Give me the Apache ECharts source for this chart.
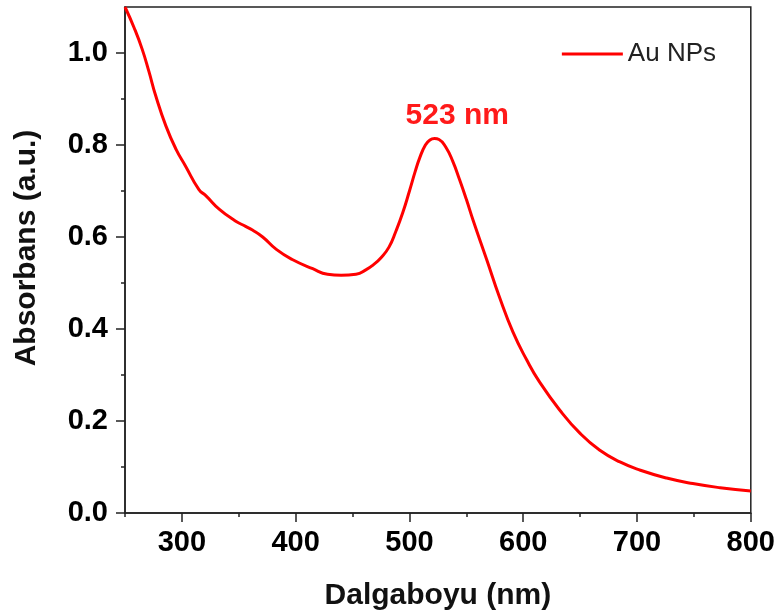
<!DOCTYPE html>
<html>
<head>
	<meta charset="utf-8">
	<title>Au NPs UV-Vis</title>
	<style>
		html, body { margin: 0; padding: 0; background: #fff; }
		#chart1 { width: 778px; height: 616px; }
	</style>
</head>
<body>
	<div id="chart1"></div>

	<script src="https://cdn.jsdelivr.net/npm/echarts@6/dist/echarts.min.js"></script>
	<script type="text/javascript">

    // spectrum
    var wavelength = [250, 258, 265, 271, 277, 286, 295, 303, 315, 321, 333, 347, 356, 362, 371,
        383, 397, 415, 428, 440, 453, 462, 468, 475, 482, 488, 494, 500, 505, 509, 514,
        518, 522, 526, 532, 538, 544, 550, 556, 568, 579, 591, 603, 614, 632, 650, 667, 685,
        703, 726, 749, 773, 800];
    var absorbance = [1.10, 1.055, 1.009, 0.96, 0.907, 0.841, 0.79, 0.755, 0.703, 0.69, 0.66, 0.635, 0.623, 0.615, 0.600,
        0.573, 0.551, 0.531, 0.519, 0.517, 0.519, 0.529, 0.539, 0.555, 0.578, 0.612, 0.652, 0.70, 0.742, 0.772, 0.80,
        0.811, 0.814, 0.812, 0.795, 0.765, 0.725, 0.682, 0.636, 0.55, 0.47, 0.393, 0.333, 0.286, 0.224, 0.173, 0.137, 0.111,
        0.093, 0.076, 0.064, 0.055, 0.048];

    var xMajor = [300, 400, 500, 600, 700, 800];
    var xMinor = [250, 350, 450, 550, 650, 750];
    var yMajor = [0, 0.2, 0.4, 0.6, 0.8, 1.0];
    var yMinor = [0.1, 0.3, 0.5, 0.7, 0.9];

    var peakLabel = '523 nm';
    var peakPos = [542, 0.864];

    var seriesName = 'Au NPs';

    function show() {
        var dom = document.getElementById('chart1');
        var myChart = echarts.init(dom);

        var data = [];
        for (var i = 0; i < wavelength.length; i++) {
            data.push([wavelength[i], absorbance[i]]);
        }

        var tickFont = {fontFamily: 'Liberation Sans, Arial', fontWeight: 'bold', fontSize: 29, color: '#000'};

        var option = {
            animation: false,
            grid: {
                left: 125, right: 27, top: 7, bottom: 103,
                show: true, borderColor: '#222', borderWidth: 1.5, containLabel: false
            },
            legend: {
                data: [seriesName],
                right: 57, top: 36,
                icon: 'rect',
                itemWidth: 61, itemHeight: 3,
                itemGap: 4,
                textStyle: {fontFamily: 'Liberation Sans, Arial', fontSize: 26, color: '#222'}
            },
            xAxis: [
                {
                    type: 'value', min: 250, max: 800,
                    name: 'Dalgaboyu (nm)', nameLocation: 'middle', nameGap: 68,
                    nameTextStyle: {fontFamily: 'Liberation Sans, Arial', fontWeight: 'bold', fontSize: 30, color: '#111'},
                    axisLine: {show: true, onZero: false, lineStyle: {color: '#222', width: 1.5}},
                    axisTick: {show: true, length: 9, customValues: xMajor, lineStyle: {color: '#222', width: 1.5}},
                    axisLabel: Object.assign({margin: 15, customValues: xMajor}, tickFont),
                    splitLine: {show: false}
                },
                {
                    type: 'value', min: 250, max: 800, position: 'bottom',
                    axisLine: {show: false},
                    axisTick: {show: true, length: 4, customValues: xMinor, lineStyle: {color: '#222', width: 1.5}},
                    axisLabel: {show: false},
                    splitLine: {show: false}
                }
            ],
            yAxis: [
                {
                    type: 'value', min: 0, max: 1.1,
                    axisLine: {show: true, onZero: false, lineStyle: {color: '#222', width: 1.5}},
                    axisTick: {show: true, length: 9, customValues: yMajor, lineStyle: {color: '#222', width: 1.5}},
                    axisLabel: Object.assign({margin: 17, customValues: yMajor,
                        formatter: function (v) { return v.toFixed(1); }}, tickFont),
                    splitLine: {show: false}
                },
                {
                    type: 'value', min: 0, max: 1.1, position: 'left',
                    axisLine: {show: false},
                    axisTick: {show: true, length: 4, customValues: yMinor, lineStyle: {color: '#222', width: 1.5}},
                    axisLabel: {show: false},
                    splitLine: {show: false}
                }
            ],
            graphic: [
                {
                    type: 'text', x: 27, y: 248, rotation: Math.PI / 2,
                    style: {
                        text: 'Absorbans (a.u.)', fill: '#111',
                        font: 'bold 30px "Liberation Sans", Arial',
                        align: 'center', verticalAlign: 'middle'
                    }
                }
            ],
            series: [
                {
                    name: seriesName,
                    type: 'line',
                    data: data,
                    smooth: 0.5,
                    showSymbol: false,
                    lineStyle: {color: '#ff0000', width: 3},
                    itemStyle: {color: '#ff0000'},
                    markPoint: {
                        symbol: 'circle', symbolSize: 0,
                        data: [{coord: peakPos, value: peakLabel}],
                        label: {
                            show: true, formatter: peakLabel, position: 'inside',
                            fontFamily: 'Liberation Sans, Arial', fontWeight: 'bold', fontSize: 30, color: '#ff1a1a'
                        }
                    }
                }
            ]
        };
        myChart.setOption(option, true);
    }

    show();

	</script>
</body>
</html>
